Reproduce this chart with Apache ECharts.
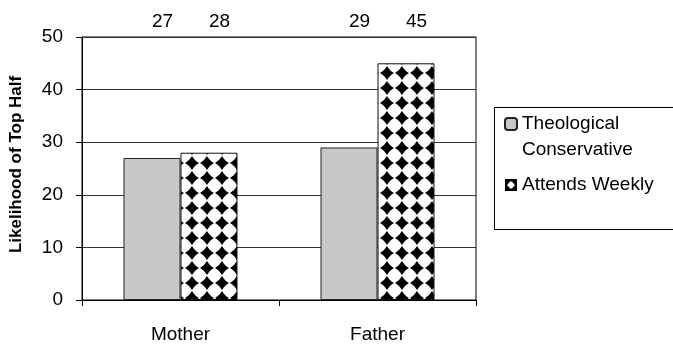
<!DOCTYPE html>
<html>
<head>
<meta charset="utf-8">
<script src="https://cdn.jsdelivr.net/npm/echarts@6/dist/echarts.min.js"></script>
<style>
html,body{margin:0;padding:0;background:#fff;}
#c{width:673px;height:344px;}
</style>
</head>
<body>
<div id="c"></div>
<script>
const categories = ['Mother', 'Father'];
const theological = [27, 29];
const attends = [28, 45];
const seriesNames = ['Theological Conservative', 'Attends Weekly'];
const yMin = 0, yMax = 50, yStep = 10;

function makePattern() {
  const s = 15;
  const c = document.createElement('canvas');
  c.width = s; c.height = s;
  const g = c.getContext('2d');
  g.fillStyle = '#fff';
  g.fillRect(0, 0, s, s);
  g.fillStyle = '#000';
  const r = 7.0, k = 1.0;
  const centers = [[12, 13], [12 - s, 13], [12, 13 - s], [12 - s, 13 - s], [12, 13 + s], [12 + s, 13]];
  centers.forEach(([mx, my]) => {
    g.beginPath();
    g.moveTo(mx, my - r);
    g.quadraticCurveTo(mx + r / 2 - k, my - r / 2 + k, mx + r, my);
    g.quadraticCurveTo(mx + r / 2 - k, my + r / 2 - k, mx, my + r);
    g.quadraticCurveTo(mx - r / 2 + k, my + r / 2 - k, mx - r, my);
    g.quadraticCurveTo(mx - r / 2 + k, my - r / 2 + k, mx, my - r);
    g.closePath();
    g.fill();
  });
  return c;
}
function makeIcon() {
  const s = 24;
  const c = document.createElement('canvas');
  c.width = s; c.height = s;
  const g = c.getContext('2d');
  g.fillStyle = '#000';
  g.fillRect(0, 0, s, s);
  g.fillStyle = '#fff';
  g.beginPath();
  g.arc(s / 2, s / 2, 6, 0, Math.PI * 2);
  g.fill();
  g.fillRect(s / 2 - 2.5, 5, 5, s - 10);
  g.fillRect(5, s / 2 - 2.5, s - 10, 5);
  return c.toDataURL();
}

const chart = echarts.init(document.getElementById('c'), null, {renderer: 'canvas'});
const font = 'Liberation Sans, Arial, Helvetica, sans-serif';

function topLabelLayout() {
  return { y: chart.convertToPixel({yAxisIndex: 0}, yMax) - 6, verticalAlign: 'bottom' };
}

const option = {
  animation: false,
  backgroundColor: '#fff',
  textStyle: {fontFamily: font, color: '#000'},
  grid: {
    left: 78, right: 197, top: 37, bottom: 43,
    show: true, borderColor: '#000', borderWidth: 1, backgroundColor: 'transparent'
  },
  legend: {
    orient: 'vertical',
    left: 504, top: 85,
    padding: 0,
    itemWidth: 12, itemHeight: 12,
    itemGap: 9,
    selectedMode: false,
    textStyle: {fontFamily: font, fontSize: 19, color: '#000', lineHeight: 26},
    formatter: n => n === seriesNames[0] ? '\nTheological\nConservative' : n,
    data: [
      {name: seriesNames[0]},
      {name: seriesNames[1], icon: 'image://' + makeIcon()}
    ]
  },
  graphic: [{
    type: 'rect', silent: true,
    shape: {x: 494.5, y: 107.5, width: 200, height: 122},
    style: {fill: 'none', stroke: '#000', lineWidth: 1}
  }],
  xAxis: {
    type: 'category',
    data: categories,
    axisLine: {lineStyle: {color: '#000', width: 1}},
    axisTick: {show: true, length: 6, lineStyle: {color: '#000'}},
    axisLabel: {fontSize: 19, color: '#000', margin: 25, fontFamily: font}
  },
  yAxis: {
    type: 'value',
    min: yMin, max: yMax, interval: yStep,
    name: 'Likelihood of Top Half',
    nameLocation: 'middle',
    nameGap: 57,
    nameTextStyle: {fontSize: 17, fontWeight: 'bold', color: '#000', fontFamily: font, padding: [0, 0, 0, 8]},
    axisLine: {show: true, lineStyle: {color: '#000', width: 1}},
    axisTick: {show: true, length: 6, lineStyle: {color: '#000'}},
    axisLabel: {fontSize: 19, color: '#000', margin: 19, fontFamily: font},
    splitLine: {show: true, lineStyle: {color: '#333', width: 1}}
  },
  series: [
    {
      name: seriesNames[0],
      type: 'bar',
      data: theological,
      barWidth: 57,
      barGap: '0%',
      itemStyle: {color: '#c8c8c8', borderColor: '#222', borderWidth: 1},
      label: {show: true, position: 'top', fontSize: 19, color: '#000', fontFamily: font},
      labelLayout: topLabelLayout
    },
    {
      name: seriesNames[1],
      type: 'bar',
      data: attends,
      barWidth: 57,
      barGap: '0%',
      itemStyle: {color: {image: makePattern(), repeat: 'repeat'}, borderColor: '#111', borderWidth: 1},
      label: {show: true, position: 'top', fontSize: 19, color: '#000', fontFamily: font},
      labelLayout: topLabelLayout
    }
  ]
};
chart.setOption(option);
</script>
</body>
</html>
